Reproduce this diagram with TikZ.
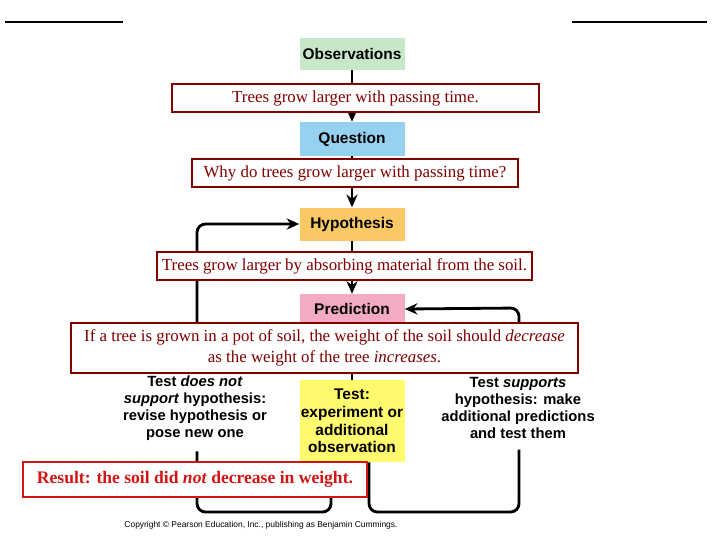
\documentclass[tikz,border=0pt]{standalone}
\usepackage{fontspec}
\setmainfont{Liberation Serif}
\setsansfont{Liberation Sans}
\usetikzlibrary{positioning,arrows.meta}
\definecolor{boxred}{RGB}{128,0,0}
\definecolor{resred}{RGB}{210,20,20}
\definecolor{obsgreen}{RGB}{200,230,200}
\definecolor{quesblue}{RGB}{150,210,240}
\definecolor{hyporange}{RGB}{250,200,100}
\definecolor{predpink}{RGB}{245,170,195}
\definecolor{testyellow}{RGB}{255,250,110}
\tikzset{
  stage/.style={font=\sffamily\bfseries\fontsize{11}{12.5}\selectfont, minimum width=105*0.025cm, inner sep=0pt},
  claim/.style={draw=boxred, line width=1.6pt, fill=white, text=boxred, font=\fontsize{12}{14.5}\selectfont, inner sep=0pt},
  side/.style={font=\sffamily\bfseries\fontsize{10.5}{12}\selectfont, align=center, inner sep=0pt, outer sep=8pt},
  flow/.style={line width=2pt, -{Stealth[length=9pt,width=8pt]}, rounded corners=6pt}
}
\begin{document}
\begin{tikzpicture}[x=0.025cm, y=-0.025cm]
    \useasboundingbox (0,0) rectangle (720,540);
    \draw[line width=1pt] (5,22) -- (123,22);
    \draw[line width=1pt] (572,22) -- (707,22);

    \node[stage, fill=obsgreen, minimum height=32*0.025cm] (obs) at (352,54) {Observations};
    \node[stage, fill=quesblue, minimum height=34*0.025cm] (ques) at (352,139) {Question};
    \node[stage, fill=hyporange, minimum height=33*0.025cm] (hyp) at (352,224) {Hypothesis};
    \node[stage, fill=predpink, minimum height=30*0.025cm] (pred) at (352,309) {Prediction};
    \node[stage, fill=testyellow, minimum height=82*0.025cm, align=center] (test) at (352,421) {Test:\\experiment or\\additional\\observation};

    \node[side] (nosup) at (195,408) {Test \textit{does not}\\\textit{support} hypothesis:\\revise hypothesis or\\pose new one};
    \node[side] (sup) at (518,408) {Test \textit{supports}\\hypothesis: make\\additional predictions\\and test them};

    \coordinate (lb) at (197,512);
    \coordinate (lt) at (197,224);
    \coordinate (rb) at (519,512);
    \coordinate (rt) at (519,308);

    % main line
    \draw[flow] (obs) -- (ques);
    \draw[flow] (ques) -- (hyp);
    \draw[flow] (hyp) -- (pred);
    \draw[line width=2pt] (pred) -- (test);
    % loops
    \draw[line width=2pt, rounded corners=6pt] (test.south -| 331,0) |- (lb) -- (nosup.south -| lb);
    \draw[flow] (nosup.north -| lt) -- (lt) -- (hyp.west);
    \draw[line width=2pt, rounded corners=6pt] (test.south -| 369,0) |- (rb) -- (sup.south -| rb);
    \draw[flow] (sup.north -| rt) -- (rt) -- (pred.east);

    \node[claim, minimum width=367*0.025cm, minimum height=28*0.025cm] (fact) at (355.5,98) {Trees grow larger with passing time.};
    \node[claim, minimum width=326*0.025cm, minimum height=28*0.025cm] (why) at (355,173) {Why do trees grow larger with passing time?};
    \node[claim, minimum width=375*0.025cm, minimum height=28*0.025cm] (guess) at (344.5,266) {Trees grow larger by absorbing material from the soil.};
    \node[claim, minimum width=507*0.025cm, minimum height=50*0.025cm, align=center] (pot) at (324.5,348) {If a tree is grown in a pot of soil, the weight of the soil should \textit{decrease}\\as the weight of the tree \textit{increases}.};
    \node[claim, draw=resred, text=resred, font=\bfseries\fontsize{12.5}{14}\selectfont, minimum width=344*0.025cm, minimum height=35*0.025cm] (res) at (195,479.5) {Result: the soil did \textit{not} decrease in weight.};

    \node[font=\sffamily\fontsize{6}{7}\selectfont, inner sep=0pt] (copy) at (261,525) {Copyright \copyright{} Pearson Education, Inc., publishing as Benjamin Cummings.};
\end{tikzpicture}
\end{document}
